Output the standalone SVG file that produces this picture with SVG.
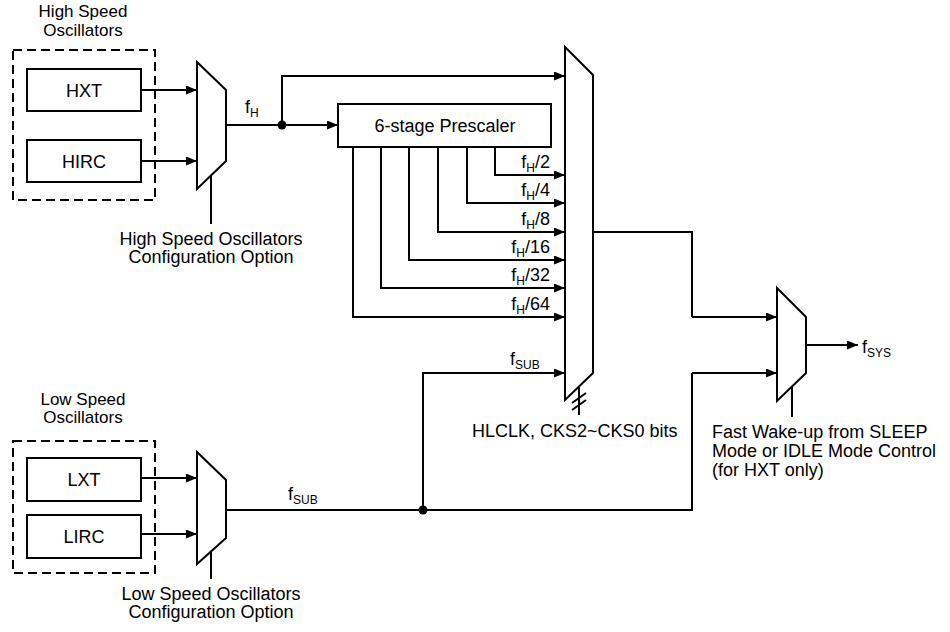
<svg xmlns="http://www.w3.org/2000/svg" width="950" height="632" viewBox="0 0 950 632">
<defs>
<marker id="arr" markerUnits="userSpaceOnUse" markerWidth="12" markerHeight="10" refX="11" refY="4.5" orient="auto">
<path d="M0,0 L11,4.5 L0,9 z" fill="#000"/>
</marker>
<style>
text{font-family:"Liberation Sans",Arial,sans-serif;font-size:18px;fill:#000}
.sub{font-size:12px}
.t{font-size:17px}
.box{fill:#fff;stroke:#000;stroke-width:2}
.dash{fill:none;stroke:#000;stroke-width:2;stroke-dasharray:9,5}
.mux{fill:#fff;stroke:#000;stroke-width:2;stroke-linejoin:miter}
.w{fill:none;stroke:#000;stroke-width:2}
.a{fill:none;stroke:#000;stroke-width:2;marker-end:url(#arr)}
.m{text-anchor:middle}
.e{text-anchor:end}
</style>
</defs>
<rect width="950" height="632" fill="#fff"/>

<g id="connectors">
<path class="a" d="M141,90 H197"/>
<path class="a" d="M141,161 H197"/>
<path class="w" d="M226,125 H282"/>
<path class="a" d="M282,125 H338"/>
<path class="a" d="M282,125 V76 H565"/>
<path class="a" d="M495,147 V175 H565"/>
<path class="a" d="M467,147 V203 H565"/>
<path class="a" d="M438,147 V232 H565"/>
<path class="a" d="M409,147 V260 H565"/>
<path class="a" d="M381,147 V288 H565"/>
<path class="a" d="M353,147 V317 H565"/>
<path class="w" d="M211,176 V224"/>
<path class="a" d="M141,478 H197"/>
<path class="a" d="M141,534 H197"/>
<path class="w" d="M211,551 V579"/>
<path class="w" d="M226,510 H692 V373"/>
<path class="a" d="M692,373 H777"/>
<path class="a" d="M423,510 V373 H565"/>
<path class="w" d="M593,232 H692 V317"/>
<path class="a" d="M692,317 H777"/>
<path class="w" d="M579,387 V415"/>
<path class="w" d="M572,403 L586,393 M572,410 L586,400"/>
<path class="a" d="M806,345 H858"/>
<path class="w" d="M792,387 V417"/>
<circle cx="282" cy="125" r="4.5" fill="#000"/>
<circle cx="423" cy="510" r="4.5" fill="#000"/>
</g>

<g id="high-speed-group">
<text class="m t" x="83" y="17">High Speed</text>
<text class="m t" x="83" y="35.5">Oscillators</text>
<rect class="dash" x="13" y="50" width="142" height="150"/>
</g>
<g id="hxt"><rect class="box" x="27" y="69" width="114" height="42"/><text class="m" x="84" y="96.5">HXT</text></g>
<g id="hirc"><rect class="box" x="27" y="140" width="114" height="42"/><text class="m" x="84" y="167.5">HIRC</text></g>
<g id="mux-high">
<polygon class="mux" points="197,62 226,90 226,161 197,189"/>
<text x="245" y="113">f<tspan class="sub" dy="4">H</tspan></text>
<text class="m" x="211" y="245">High Speed Oscillators</text>
<text class="m" x="211" y="263">Configuration Option</text>
</g>
<g id="prescaler"><rect class="box" x="338" y="104" width="213" height="43"/><text class="m" x="445" y="132">6-stage Prescaler</text></g>
<g id="prescaler-labels">
<text class="e" x="550" y="168">f<tspan class="sub" dy="4">H</tspan><tspan dy="-4">/2</tspan></text>
<text class="e" x="550" y="196">f<tspan class="sub" dy="4">H</tspan><tspan dy="-4">/4</tspan></text>
<text class="e" x="550" y="225">f<tspan class="sub" dy="4">H</tspan><tspan dy="-4">/8</tspan></text>
<text class="e" x="550" y="253">f<tspan class="sub" dy="4">H</tspan><tspan dy="-4">/16</tspan></text>
<text class="e" x="550" y="281">f<tspan class="sub" dy="4">H</tspan><tspan dy="-4">/32</tspan></text>
<text class="e" x="550" y="310">f<tspan class="sub" dy="4">H</tspan><tspan dy="-4">/64</tspan></text>
<text x="510" y="365">f<tspan class="sub" dy="4">SUB</tspan></text>
</g>
<g id="mux-main">
<polygon class="mux" points="565,47 593,75 593,373 565,400"/>
<text x="472" y="437">HLCLK, CKS2~CKS0 bits</text>
</g>
<g id="low-speed-group">
<text class="m t" x="83" y="404.5">Low Speed</text>
<text class="m t" x="83" y="423">Oscillators</text>
<rect class="dash" x="13" y="441" width="142" height="132"/>
</g>
<g id="lxt"><rect class="box" x="27" y="458" width="114" height="43"/><text class="m" x="84" y="486">LXT</text></g>
<g id="lirc"><rect class="box" x="27" y="515" width="114" height="43"/><text class="m" x="84" y="543">LIRC</text></g>
<g id="mux-low">
<polygon class="mux" points="197,452 226,480 226,538 197,564"/>
<text x="288" y="500">f<tspan class="sub" dy="4">SUB</tspan></text>
<text class="m" x="211" y="600">Low Speed Oscillators</text>
<text class="m" x="211" y="618">Configuration Option</text>
</g>
<g id="mux-sys">
<polygon class="mux" points="777,288 806,317 806,373 777,401"/>
<text x="862" y="353">f<tspan class="sub" dy="4">SYS</tspan></text>
<text x="712" y="438">Fast Wake-up from SLEEP</text>
<text x="712" y="457">Mode or IDLE Mode Control</text>
<text x="712" y="476">(for HXT only)</text>
</g>
</svg>
